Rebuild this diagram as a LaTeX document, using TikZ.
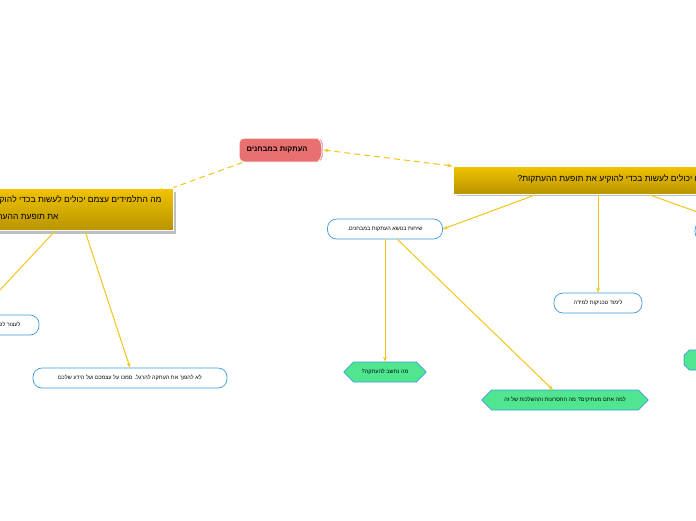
\documentclass[tikz,border=0pt]{standalone}
\usepackage{fontspec}
\setmainfont{Liberation Sans}
\TeXXeTstate=1
\usetikzlibrary{shapes.geometric,shapes.misc,arrows.meta}
\definecolor{gold1}{HTML}{F2C400}
\definecolor{gold2}{HTML}{B89400}
\definecolor{edge}{HTML}{F5C518}
\definecolor{blueb}{HTML}{3A9BE0}
\definecolor{greenf}{HTML}{50E690}
\definecolor{redf}{HTML}{E97070}
\tikzset{
 big/.style={draw=white,line width=1pt,top color=gold1,bottom color=gold2,minimum height=28pt,inner sep=0pt},
 bubble/.style={draw=blueb,rounded corners=9pt,fill=white,minimum height=20pt,font=\fontsize{5.5}{6}\selectfont,line width=0.7pt},
 hexa/.style={draw=blueb,fill=greenf,chamfered rectangle,chamfered rectangle xsep=8pt,chamfered rectangle angle=45,minimum height=20pt,font=\fontsize{5.5}{6}\selectfont,line width=0.7pt,inner xsep=2pt},
 con/.style={draw=edge,line width=1pt,-{Stealth[length=5pt]}},
 dcon/.style={draw=edge,line width=1pt,dash pattern=on 6pt off 4pt},
 shad/.style={fill=black!25},
}
\begin{document}
\begin{tikzpicture}[x=1pt,y=-1pt]
\useasboundingbox (0,0) rectangle (696,520);
\clip (0,0) rectangle (696,520);
\fill[white] (0,0) rectangle (696,520);
% root
\node[draw=white,line width=1pt,fill=redf,rounded corners=5pt,minimum width=84pt,minimum height=24pt] (root) at (281,150) {};
\draw[white,line width=0.8pt] (318,139) arc[x radius=4pt,y radius=11pt,start angle=90,end angle=-90];
\node[font=\fontsize{7.5}{8}\selectfont\bfseries] at (277,150) {\beginR העתקות במבחנים\endR};
% big boxes
\fill[shad] (-30,192) rectangle (176,234);
\node[big,minimum width=200pt,minimum height=42pt] (L) at (73,209) {};
\node[anchor=east,font=\fontsize{8.5}{10}\selectfont] at (165,200) {\beginR מה התלמידים עצמם יכולים לעשות בכדי להוקיע\endR};
\node[anchor=east,font=\fontsize{8.5}{10}\selectfont] at (62,217) {\beginR את תופעת ההעתקות?\endR};
\fill[shad] (457,170) rectangle (760,196);
\node[big,minimum width=300pt] (R) at (603,180) {};
\node[anchor=west,font=\fontsize{8.5}{10}\selectfont] at (514,179) {\beginR מה המורים יכולים לעשות בכדי להוקיע את תופעת ההעתקות?\endR};
% bubbles
\node[bubble,minimum width=115pt] (sh) at (385,229) {\beginR שיחות בנושא העתקות במבחנים.\endR};
\node[bubble,minimum width=88pt] (lim) at (598,303) {\beginR לימוד טכניקות למידה\endR};
\node[bubble,minimum width=194pt] (la) at (130,378) {\beginR לא להפוך את העתקה להרגל. סמכו על עצמכם ועל הידע שלכם\endR};
\node[bubble,minimum width=90pt] (lz) at (-6,325) {};
\node[anchor=east,font=\fontsize{5.5}{6}\selectfont] at (24,325) {\beginR לעצור לפני שאתם מעתיקים\endR};
\node[bubble,minimum width=90pt] (pr) at (740,231) {};
% hexagons
\node[hexa,minimum width=82pt] (nh) at (385,372) {\beginR מה נחשב להעתקה?\endR};
\node[hexa,minimum width=166pt] (lm) at (565,400) {\beginR למה אתם מעתיקים? מה החסרונות וההשלכות של זה\endR};
\node[hexa,minimum width=90pt] (ph) at (729,360) {};
% edges
\draw[dcon,{Stealth[length=5pt]}-{Stealth[length=5pt]}] (R.west) ++(0,-14) coordinate (rw) (rw) -- (root.east);
\draw[dcon,-{Stealth[length=5pt]}] (root.south west) ++(4,0) coordinate (rsw) (rsw) -- (L.north east) ++(-12,0);
\coordinate (l1) at (55,231); \coordinate (l1e) at (0,290);
\draw[edge,line width=1pt] (l1) -- (l1e);
\coordinate (l2) at (85,231);
\draw[con] (l2) -- (la.north);
\coordinate (r1) at (535,195); \draw[con] (r1) -- (sh.east);
\coordinate (r2) at (598,195); \draw[con] (r2) -- (lim.north);
\coordinate (r3) at (650,195); \coordinate (r3e) at (700,213); \draw[edge,line width=1pt] (r3) -- (r3e);
\coordinate (s1) at (385,239); \draw[con] (s1) -- (nh.north);
\coordinate (s2) at (397,239); \coordinate (s2e) at (553,390); \draw[con] (s2) -- (s2e);
\end{tikzpicture}
\end{document}
